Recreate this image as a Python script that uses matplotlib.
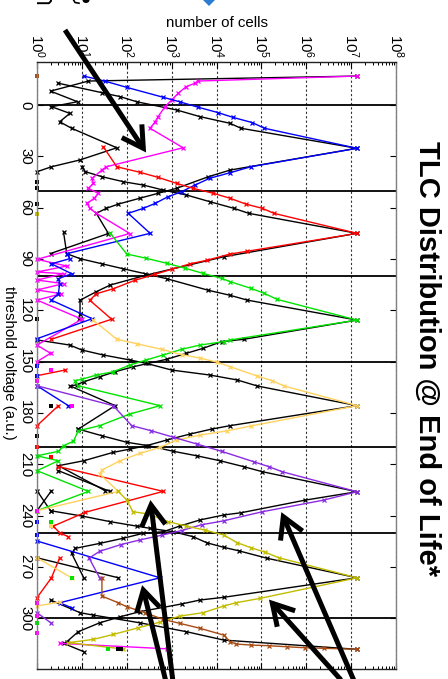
import matplotlib
matplotlib.use("Agg")
import numpy as np
import matplotlib.pyplot as plt
from matplotlib.lines import Line2D
from matplotlib.patches import Polygon, Ellipse
from matplotlib.ticker import FixedLocator, LogLocator, NullFormatter

plt.rcParams['font.family'] = ['Liberation Sans', 'DejaVu Sans']
plt.rcParams['mathtext.fontset'] = 'custom'
plt.rcParams['mathtext.rm'] = 'Liberation Sans'
plt.rcParams['mathtext.default'] = 'regular'

# ---------------- data: threshold voltage (a.u.) vs number of cells ----------------
# erased state
er_t = [-16.9, -14.0, -12.7, -10.7, -6.8, -2.9, 1.0, 6.8, 9.8, 13.6, 25.0, 36.1, 38.0, 42.8, 45.8,
        48.7, 51.6, 54.5, 57.5, 60.4, 63.3, 75.1, 90.2, 94.1, 97.6, 98.6, 102.3, 104.4, 108.1,
        110.3, 114.0, 125.2, 140.3, 145.1, 150.0]
er_c = [1.35e7, 3900, 3300, 2100, 1400, 1000, 710, 500, 430, 330, 1800, 35, 28, 17, 18,
        14, 23, 19, 13, 15, 21, 117, 1, 4.6, 1, 3.9, 1, 3.9, 1,
        3.5, 1, 10, 1, 2, 1]
er_ref_t = [-16.9, -14.0, -8.1, -1.9, 1.0, 4.9, 9.8, 13.6, 25.0, 32.1, 36.1, 39.0]
er_ref_c = [1.35e7, 14, 2, 8, 2.1, 5.4, 3.2, 5.9, 60, 9.1, 2.1, 1]
er_tail_t = [314.6, 317.8]
er_tail_c = [3.2, 776]

# P1
p1_t = [-16.9, -14.0, -10.3, -4.5, -1.9, 1.3, 4.5, 7.2, 10.3, 13.6, 25.3, 36.1, 39.6, 42.8, 46.8,
        50.7, 53.6, 57.5, 60.4, 63.3, 75.0, 86.9, 89.8, 92.8, 98.6, 101.5, 104.4, 110.3, 114.1,
        124.9, 136.6]
p1_c = [11, 32, 100, 650, 1500, 3900, 1.1e4, 2.3e4, 6.3e4, 1.17e5, 1.35e7, 5.8e4, 2.0e4, 7100, 3300,
        1660, 830, 430, 234, 108, 331, 4.6, 5.4, 2.1, 5.9, 3, 3.2, 3, 2.1,
        17, 1]
p1_ref_t = [-12.7, -7.2, -4.9, -1.9, 2.9, 6.8, 10.7, 13.6, 25.3, 38.0, 41.9, 48.7, 51.6, 54.5,
            57.9, 60.4, 63.3, 75.1, 86.8]
p1_ref_c = [3, 28, 71, 166, 1290, 4270, 2.0e4, 3.5e4, 1.35e7, 2.04e4, 6610, 1290, 501, 195,
            65, 35, 21, 39, 2]
p1_b_t = [164.1, 175.7]
p1_b_c = [1, 5]
p1_c_t = [254.8, 276.3, 290.9, 293.8]
p1_c_c = [1, 550, 3.2, 5.9]

# P2
p2_t = [24.4, 36.1, 39.3, 42.3, 45.8, 48.7, 51.6, 54.5, 57.9, 60.4, 63.3, 75.0, 85.5, 87.1,
        90.8, 92.8, 96.0, 98.9, 102.5, 107.4, 110.3, 114.1, 125.2, 136.9]
p2_c = [30, 60, 195, 500, 1290, 3000, 8500, 2.0e4, 4.5e4, 1.05e5, 1.9e5, 1.35e7, 4.8e4, 2.0e4,
        6000, 2600, 1000, 430, 150, 50, 21, 15, 46, 2.1]
p2_ref_t = [36.1, 39.0, 41.9, 44.8, 46.8, 49.7, 52.6, 56.5, 60.4, 63.3, 75.0, 88.7, 99.4, 105.2,
            109.1, 114.1, 122.0, 125.2]
p2_ref_c = [10, 12, 28, 83, 234, 646, 2140, 7080, 2.45e4, 5.2e4, 1.35e7, 1.45e4, 275, 43,
            21, 9.1, 9.1, 8.8]
p2_b_t = [154.9, 158.2]
p2_b_c = [4.2, 1]
p2_c_t = [175.7, 187.4]
p2_c_c = [3, 1]
p2_d_t = [211.3, 225.8, 238.0, 246.1, 250.0, 252.3]
p2_d_c = [3, 650, 12, 2.3, 3.2, 5]
p2_e_t = [264.6, 276.3, 287.9]
p2_e_c = [3.2, 2.1, 1]

# P3
p3_t = [75.0, 87.1, 89.6, 92.5, 95.4, 98.4, 101.3, 103.3, 107.1, 110.1, 113.6, 125.7, 137.3, 138.3,
        140.3, 142.8, 146.1, 149.0, 152.0, 155.9, 157.8, 160.3, 161.1, 164.1, 175.7, 180.6, 187.4,
        190.4, 196.5, 199.1, 202.4, 205.0, 207.9, 213.7, 225.8, 237.1]
p3_c = [43, 100, 275, 776, 2000, 5000, 1.3e4, 2.04e4, 5.8e4, 1.17e5, 2.24e5, 1.35e7, 2.04e4, 1.45e4,
        4270, 1660, 646, 275, 117, 50, 21, 10, 7.1, 8.3, 550, 117, 25,
        8.3, 6.5, 3.9, 3, 1, 3, 1, 14, 1]
p3_ref_t = [74.2, 86.9, 89.8, 92.8, 95.7, 98.6, 101.5, 108.3, 111.2, 114.0, 125.7, 136.9, 138.3,
            142.2, 145.1, 148.6, 151.0, 153.0, 155.9, 158.8, 161.7, 163.6, 164.1, 175.7, 189.4]
p3_ref_c = [3.9, 4.6, 9.1, 28, 83, 257, 776, 6610, 2.0e4, 4.8e4, 1.35e7, 4.1e4, 1.3e4,
            5010, 2140, 776, 302, 138, 55, 25, 11, 7.6, 5.4, 55, 8.3]

# P4
p4_t = [125.8, 136.9, 139.5, 142.8, 145.9, 147.9, 150.2, 153.0, 158.4, 161.1, 164.2, 175.7, 187.6,
        190.4, 192.9, 195.8, 200.1, 203.6, 207.9, 213.3, 215.7, 225.8, 237.1]
p4_c = [18, 60, 166, 603, 1660, 4270, 1.0e4, 2.04e4, 8.1e4, 1.74e5, 3.2e5, 1.35e7, 5.8e4,
        1.74e4, 4270, 1290, 550, 195, 71, 28, 25, 65, 1]
p4_ref_t = [137.3, 140.3, 143.2, 146.1, 149.0, 151.0, 154.9, 157.8, 160.7, 164.2, 175.7, 187.4,
            189.4, 192.3, 195.8, 199.1, 201.1, 203.0, 207.9, 210.8, 225.4]
p4_ref_c = [1, 5.4, 10, 30, 117, 275, 1000, 7080, 2.9e4, 8.1e4, 1.35e7, 2.0e4,
            7760, 2570, 776, 275, 117, 50, 11, 3, 33]
p4_b_t = [264.6, 276.3]
p4_b_c = [1, 5.9]
p4_c_t = [290.5, 292.8]
p4_c_c = [3.2, 1]

# P5
p5_t = [164.1, 175.7, 187.4, 190.4, 194.2, 198.1, 202.4, 208.5, 211.4, 214.3, 226.0, 230.9, 237.7,
        243.0, 245.3, 248.7, 251.4, 254.2, 256.9, 260.8, 264.8, 276.4]
p5_c = [1, 50, 129, 355, 1100, 3630, 1.3e4, 6.8e4, 1.48e5, 2.9e5, 1.35e7, 2.45e6, 1.05e5,
        1.45e4, 4680, 1660, 603, 195, 74, 25, 14.5, 25]
p5_ref_t = [189.4, 193.3, 197.1, 199.1, 202.4, 205.0, 207.9, 211.4, 214.3, 226.0, 230.9, 238.3,
            239.6, 242.5, 246.1, 249.4, 250.3, 253.2, 256.2, 259.1, 262.0, 276.3]
p5_ref_c = [8.3, 28, 100, 302, 1100, 3630, 1.2e4, 4.1e4, 1.05e5, 1.35e7, 9.5e5, 3.5e4,
            1.45e4, 4270, 1510, 646, 234, 83, 25, 7.1, 5.9, 11]
p5_b_t = [296.7, 302.9]
p5_b_c = [1, 2.1]

# P6
p6_t = [225.8, 230.9, 237.7, 239.0, 243.5, 246.1, 248.4, 251.3, 255.8, 258.7, 261.4, 264.6, 276.3,
        288.3, 290.9, 292.8, 296.7, 298.7, 302.2, 305.5, 309.4, 312.3, 314.2, 317.9]
p6_c = [65, 100, 138, 302, 832, 2140, 5500, 1.45e4, 2.9e4, 5.8e4, 1.23e5, 2.45e5, 1.35e7,
        9.5e4, 2.7e4, 1.45e4, 5010, 1510, 550, 182, 50, 18, 5, 83]
p6_ref_t = [237.1, 240.2, 243.5, 246.1, 247.4, 249.4, 252.3, 255.8, 258.5, 260.5, 264.9, 276.3,
            287.7, 289.3, 291.6, 293.6, 296.1, 299.1, 302.6, 307.8, 313.7]
p6_ref_c = [2, 10, 43, 166, 331, 1100, 3020, 6030, 1.45e4, 3.1e4, 1.35e5, 1.35e7,
            1.45e4, 4270, 1660, 646, 195, 71, 25, 8.3, 4.6]

# P7
p7_t = [276.3, 287.0, 290.9, 293.2, 296.7, 300.6, 302.9, 305.8, 309.8, 313.7, 315.0, 315.6, 316.0,
        316.6, 317.2, 317.5, 318.1]
p7_c = [28, 28, 65, 100, 257, 646, 1510, 4270, 1.45e4, 2.04e4, 2.7e4, 5.8e4, 1.48e5,
        3.7e5, 9.5e5, 2.45e6, 1.35e7]
p7_ref_t = [289.3, 296.7, 298.1, 302.6, 307.8, 312.7, 318.1]
p7_ref_c = [2, 9.1, 18, 195, 2140, 1.45e4, 1.35e7]

# short reference fragments in the tails
ref_a_t = [213.7, 225.8]
ref_a_c = [3, 42]
ref_b_t = [225.4, 237.1]
ref_b_c = [1, 2]
ref_c_t = [225.4, 237.1]
ref_c_c = [2.1, 1]
ref_d_t = [264.6, 276.3]
ref_d_c = [1, 65]
ref_e_t = [314.6, 319.5]
ref_e_c = [3.9, 11]

# single populated bins (neighbours empty)
single_er_t = [154.9, 161.1, 175.7, 237.1, 290.9, 298.7, 308.4]
single_er_c = [2, 1, 5.9, 1, 1, 1, 1]
single_p1_t = [152.4, 158.2, 243.5, 251.3]
single_p1_c = [1, 1, 1, 1]
single_p2_t = [199.7, 205.5]
single_p2_c = [1, 2]
single_p3_t = [243.7, 276.3, 302.9, 318.1]
single_p3_c = [2, 5.9, 1, 39]
single_p4_t = [246.1]
single_p4_c = [2.1]
single_p6_t = [63.5]
single_p6_c = [1]
single_p7_t = [-16.9]
single_p7_c = [1]
single_ref_t = [44.8, 48.7, 57.9, 125.2, 175.9, 193.5, 318.2, 318.2]
single_ref_c = [1, 1, 1, 1, 2, 1, 65, 75]

read_levels = [0, 50, 100, 150, 200, 250, 300]
vt_ticks = [0, 30, 60, 90, 120, 150, 180, 210, 240, 270, 300]
count_decades = [1e0, 1e1, 1e2, 1e3, 1e4, 1e5, 1e6, 1e7, 1e8]

C_ER = '#FF00FF'
C_P1 = '#0000FF'
C_P2 = '#FF0000'
C_P3 = '#00E400'
C_P4 = '#FFD25E'
C_P5 = '#8A2BE2'
C_P6 = '#C2BC00'
C_P7 = '#A84B14'
C_REF = '#000000'

# ---------------- figure ----------------
W, H = 448, 679
fig = plt.figure(figsize=(W / 100, H / 100), dpi=100)
fig.patch.set_facecolor('white')

ax_l, ax_r, ax_t, ax_b = 37, 396, 61.7, 669
ax = fig.add_axes([ax_l / W, 1 - ax_b / H, (ax_r - ax_l) / W, (ax_b - ax_t) / H])
ax.set_xscale('log')
ax.set_xlim(1, 1e8)
ax.set_ylim(329.6, -25.3)


def trace(t, c, color, z=3):
    ax.plot(c, t, color=color, lw=1.0, marker='x', ms=3.2, mew=0.9, zorder=z, clip_on=False)


def singles(t, c, color):
    ax.plot(c, t, 's', color=color, ms=2.8, mew=0, zorder=5, clip_on=False)


for lvl in read_levels:
    ax.axhline(lvl, color='k', lw=1.3, zorder=2)

for t, c in [(er_ref_t, er_ref_c), (p1_ref_t, p1_ref_c), (p2_ref_t, p2_ref_c),
             (p3_ref_t, p3_ref_c), (p4_ref_t, p4_ref_c), (p5_ref_t, p5_ref_c),
             (p6_ref_t, p6_ref_c), (p7_ref_t, p7_ref_c), (ref_a_t, ref_a_c),
             (ref_b_t, ref_b_c), (ref_c_t, ref_c_c), (ref_d_t, ref_d_c), (ref_e_t, ref_e_c)]:
    trace(t, c, C_REF)

for t, c, col in [(er_t, er_c, C_ER), (er_tail_t, er_tail_c, C_ER),
                  (p1_t, p1_c, C_P1), (p1_b_t, p1_b_c, C_P1), (p1_c_t, p1_c_c, C_P1),
                  (p2_t, p2_c, C_P2), (p2_b_t, p2_b_c, C_P2), (p2_c_t, p2_c_c, C_P2),
                  (p2_d_t, p2_d_c, C_P2), (p2_e_t, p2_e_c, C_P2),
                  (p3_t, p3_c, C_P3),
                  (p4_t, p4_c, C_P4), (p4_b_t, p4_b_c, C_P4), (p4_c_t, p4_c_c, C_P4),
                  (p5_t, p5_c, C_P5), (p5_b_t, p5_b_c, C_P5),
                  (p6_t, p6_c, C_P6),
                  (p7_t, p7_c, C_P7)]:
    trace(t, c, col, z=4)

for t, c, col in [(single_er_t, single_er_c, C_ER), (single_p1_t, single_p1_c, C_P1),
                  (single_p2_t, single_p2_c, C_P2), (single_p3_t, single_p3_c, C_P3),
                  (single_p4_t, single_p4_c, C_P4), (single_p6_t, single_p6_c, C_P6),
                  (single_p7_t, single_p7_c, C_P7), (single_ref_t, single_ref_c, C_REF)]:
    singles(t, c, col)

# axes styling
ax.grid(True, which='major', axis='x', color='#333333', lw=0.8, linestyle=(0, (2, 2)), zorder=1)
ax.xaxis.set_major_locator(FixedLocator(count_decades))
ax.xaxis.set_minor_locator(LogLocator(base=10, subs=np.arange(2, 10), numticks=100))
ax.xaxis.set_minor_formatter(NullFormatter())
ax.set_xticklabels([r'$10^{%d}$' % int(round(np.log10(v))) for v in count_decades])
ax.set_yticks(vt_ticks)
ax.tick_params(axis='x', which='both', direction='in', top=True, bottom=True,
               labeltop=True, labelbottom=False, labelrotation=-90, labelsize=10.8, pad=2.5)
ax.tick_params(axis='x', which='major', length=4.5, width=0.8)
ax.tick_params(axis='x', which='minor', length=2.5, width=0.7)
ax.tick_params(axis='y', which='major', direction='in', left=True, right=True, length=4.5,
               width=0.8, labelrotation=-90, labelsize=10.8, pad=3.5)
for lab in ax.get_yticklabels():
    lab.set_verticalalignment('center')
for side in ('left', 'right'):
    ax.spines[side].set_color('#808080')
for side in ('top', 'bottom'):
    ax.spines[side].set_color('#222222')
for sp in ax.spines.values():
    sp.set_linewidth(1.0)
    sp.set_zorder(6)

# labels and title
fig.text(216.5 / W, 1 - 23 / H, 'number of cells', ha='center', va='center', fontsize=10.8)
fig.text(9 / W, 1 - 363 / H, 'threshold voltage (a.u.)', rotation=-90,
         ha='center', va='center', fontsize=10.8)
fig.text(427 / W, 1 - 359 / H, 'TLC Distribution @ End of Life*', rotation=-90,
         ha='center', va='center', fontsize=21, fontweight='bold')


# callout arrows (figure pixel coordinates, y measured from the top)
def fxy(x, y):
    return x / W, 1 - y / H


def arrow(tail, tip, head_len=24, spread=30):
    tx, ty = tail
    hx, hy = tip
    d = np.hypot(tx - hx, ty - hy)
    ux, uy = (tx - hx) / d, (ty - hy) / d
    arms = []
    for a in (np.radians(spread), -np.radians(spread)):
        ca, sa = np.cos(a), np.sin(a)
        arms.append((hx + head_len * (ux * ca - uy * sa), hy + head_len * (ux * sa + uy * ca)))
    p0, p1 = fxy(tx, ty), fxy(hx, hy)
    fig.add_artist(Line2D([p0[0], p1[0]], [p0[1], p1[1]], transform=fig.transFigure,
                          color='k', lw=3.6, solid_capstyle='butt', zorder=10))
    pts = [fxy(*arms[0]), p1, fxy(*arms[1])]
    fig.add_artist(Line2D([p[0] for p in pts], [p[1] for p in pts], transform=fig.transFigure,
                          color='k', lw=3.6, solid_joinstyle='miter', solid_capstyle='butt',
                          zorder=10))


arrow((65, 30), (143.3, 148.3))
arrow((174, 690), (151, 505))
arrow((168, 690), (143.3, 590))
arrow((358, 690), (283.3, 516.7))
arrow((350, 690), (272.3, 603.3))

# decorations along the top edge
dx, dy = 209, -2.5
fig.add_artist(Polygon([fxy(dx, dy - 8.5), fxy(dx + 8.5, dy), fxy(dx, dy + 8.5), fxy(dx - 8.5, dy)],
                       closed=True, transform=fig.transFigure, facecolor='#2B7CD3',
                       edgecolor='none', zorder=10))
hook = [fxy(38, 3.2), fxy(49, 3.2), fxy(51, 1.0), fxy(51, -2)]
fig.add_artist(Line2D([p[0] for p in hook], [p[1] for p in hook], transform=fig.transFigure,
                      color='k', lw=1.4, zorder=10))
curl = [fxy(73, -1), fxy(75, 2.5), fxy(79, 3.2)]
fig.add_artist(Line2D([p[0] for p in curl], [p[1] for p in curl], transform=fig.transFigure,
                      color='k', lw=1.2, zorder=10))
fig.add_artist(Ellipse(fxy(86, 0), 7 / W, 6 / H, transform=fig.transFigure,
                       facecolor='k', edgecolor='none', zorder=10))

fig.savefig('out.png', dpi=100, facecolor='white')
